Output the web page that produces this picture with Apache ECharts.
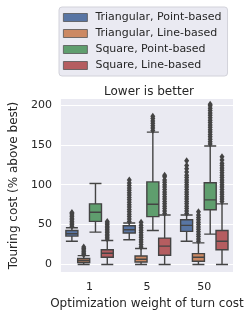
<!DOCTYPE html>
<html><head><meta charset="utf-8">
<script src="https://cdn.jsdelivr.net/npm/echarts@6/dist/echarts.min.js"></script>
<style>html,body{margin:0;padding:0;background:#fff}#c{width:249px;height:317px}</style>
</head><body><div id="c"></div>
<script>
var categories = ['1', '5', '50'];
var seriesNames = ['Triangular, Point-based', 'Triangular, Line-based', 'Square, Point-based', 'Square, Line-based'];
var yTicks = [0, 50, 100, 150, 200];
// box stats: [lower whisker, Q1, median, Q3, upper whisker] per category
var triPoint = [[29, 35.5, 38.5, 42.5, 46], [31, 39.5, 43.5, 48.5, 52], [29, 41.5, 49, 56, 62]];
var triLine = [[0, 2.5, 5, 7.5, 11], [0, 3, 6.5, 10.5, 20], [0, 4, 9, 13.5, 27]];
var sqPoint = [[40.5, 54, 65.5, 76, 101.5], [42.5, 60, 75.5, 103.5, 166], [38, 68.5, 81, 102.5, 148.5]];
var sqLine = [[0, 9, 14, 18.5, 30], [0, 11.5, 23, 33, 62], [0, 18.5, 29, 42.5, 76]];
// outliers per category
var triPointOut = [[48,50,52,54,56,58,60,62,64,65],[54,57,60,63,66,69,72,75,78,81,84,87,90,93,96,99,102,106],[64,67,70,73,76,79,82,85,88,91,94,97,100,103,106,109,112,116,120,124,130]];
var triLineOut = [[12,14,16,18,20,22],[22,25,28,31,34,37,40,43,46,49,53],[29,32,35,38,41,44,47,50,53,56,59,62,66]];
var sqPointOut = [[],[168,171,174,177,180,183,186],[151,154,157,160,163,166,169,172,175,178,181,184,187,190,193,196,199,201]];
var sqLineOut = [[32,34,36,38,40,42,44,46,48,50,52,54],[64,67,70,73,76,79,82,85,88,91,94,97,100,103,106,110,112],[79,82,85,88,91,94,97,100,103,106,109,112,115,118,121,124,127,131,135]];

var colors = ['#5875a4', '#cc8963', '#5f9e6e', '#b55d60'];
var lineColor = '#444444';
var boxes = [triPoint, triLine, sqPoint, sqLine];
var outs = [triPointOut, triLineOut, sqPointOut, sqLineOut];
var offsets = [-0.308, -0.102, 0.102, 0.308];
var FONT = 'DejaVu Sans';
var txt = '#262626';

var series = [];
boxes.forEach(function (b, i) {
  series.push({
    type: 'boxplot', name: seriesNames[i], data: b,
    xAxisIndex: 0, yAxisIndex: 0,
    boxWidth: [12, 12],
    itemStyle: { color: colors[i], borderColor: lineColor, borderWidth: 1.4 },
    emphasis: { disabled: true }, silent: true, z: 3
  });
});
outs.forEach(function (o, i) {
  var pts = [];
  o.forEach(function (vals, c) { vals.forEach(function (v) { pts.push([c + offsets[i], v]); }); });
  series.push({
    type: 'scatter', name: 'out' + i, data: pts, xAxisIndex: 1, yAxisIndex: 0,
    symbol: 'diamond', symbolSize: [5, 7],
    itemStyle: { color: lineColor, opacity: 1 }, silent: true, z: 4
  });
});

var legendData = seriesNames.map(function (n, i) {
  return { name: n, itemStyle: { color: colors[i], borderColor: '#555555', borderWidth: 0.8 } };
});

var chart = echarts.init(document.getElementById('c'), null, { renderer: 'canvas' });
chart.setOption({
  animation: false,
  backgroundColor: '#ffffff',
  textStyle: { fontFamily: FONT },
  title: { text: 'Lower is better', left: 144, textAlign: 'center', top: 81,
    textStyle: { fontFamily: FONT, fontSize: 12, fontWeight: 'normal', color: txt } },
  legend: {
    data: legendData, orient: 'vertical', left: 59, top: 7,
    icon: 'rect', itemWidth: 24, itemHeight: 8, itemGap: 3,
    backgroundColor: '#eaeaf2', borderColor: '#d2d2da', borderWidth: 1, borderRadius: 3,
    padding: [4, 6, 4, 4],
    textStyle: { fontFamily: FONT, fontSize: 11, lineHeight: 13, color: txt, padding: [0, 0, 0, 3] },
    selectedMode: false
  },
  grid: { left: 54, right: 16, top: 99, bottom: 45, show: true, backgroundColor: '#eaeaf2', borderWidth: 0 },
  xAxis: [{
    type: 'category', data: categories,
    name: 'Optimization weight of turn cost', nameLocation: 'middle', nameGap: 25,
    nameTextStyle: { fontFamily: FONT, fontSize: 12, color: txt },
    axisLine: { show: false }, axisTick: { show: false },
    axisLabel: { fontFamily: FONT, fontSize: 11, color: txt, margin: 10 },
    splitLine: { show: false }
  }, {
    type: 'value', min: -0.5, max: 2.5, show: false
  }],
  yAxis: [{
    type: 'value', min: -9.5, max: 207.5,
    name: 'Touring cost (% above best)', nameLocation: 'middle', nameGap: 35, nameRotate: 90,
    nameTextStyle: { fontFamily: FONT, fontSize: 12, color: txt },
    axisLine: { show: false },
    axisTick: { show: false, customValues: yTicks },
    axisLabel: { fontFamily: FONT, fontSize: 11, color: txt, margin: 9, customValues: yTicks },
    splitLine: { show: true, lineStyle: { color: '#ffffff', width: 1.2 } }
  }],
  series: series
});
</script></body></html>
